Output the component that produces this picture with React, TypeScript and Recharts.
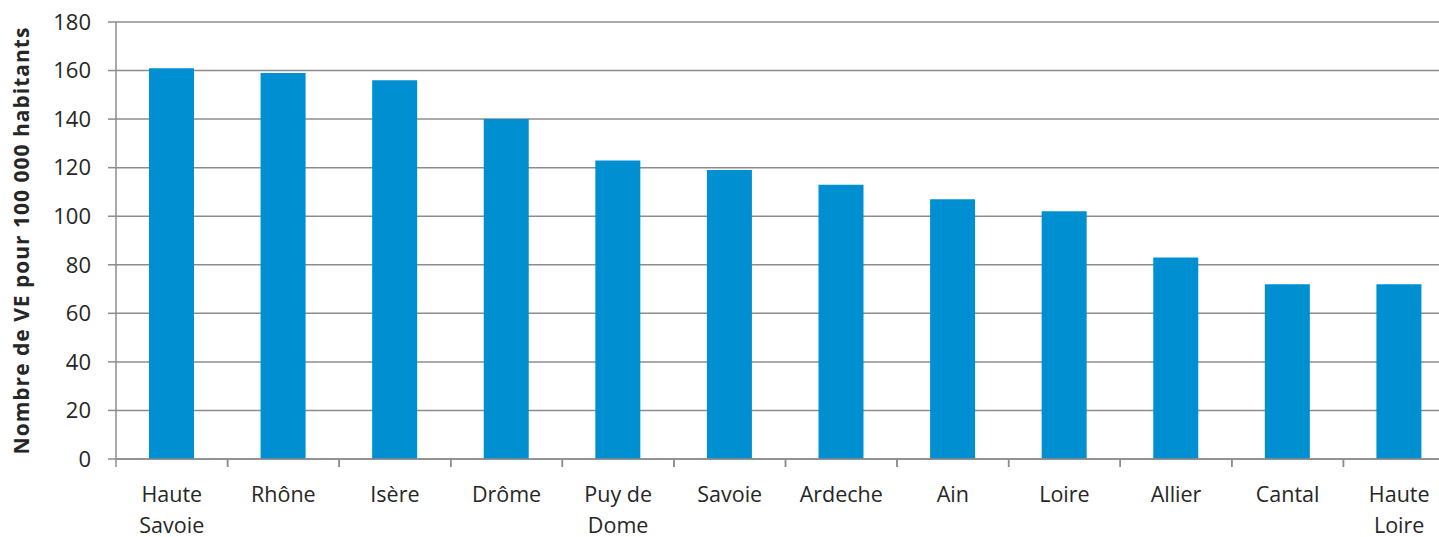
import { BarChart, Bar, XAxis, YAxis, CartesianGrid } from 'recharts'

// départements, nombre de VE pour 100 000 habitants
const departements = [
  'Haute Savoie',
  'Rhône',
  'Isère',
  'Drôme',
  'Puy de Dome',
  'Savoie',
  'Ardeche',
  'Ain',
  'Loire',
  'Allier',
  'Cantal',
  'Haute Loire',
]
const vePour100k = [161, 159, 156, 140, 123, 119, 113, 107, 102, 83, 72, 72]
const yTicks = [0, 20, 40, 60, 80, 100, 120, 140, 160, 180]

// libellés sur deux lignes comme dans l'original
const labelLines: Record<string, string[]> = {
  'Haute Savoie': ['Haute', 'Savoie'],
  'Puy de Dome': ['Puy de', 'Dome'],
  'Haute Loire': ['Haute', 'Loire'],
}

const data = departements.map((name, i) => ({ name, value: vePour100k[i] }))

const FONT = '"Open Sans", sans-serif'
const AXIS_COLOR = '#8c8c8c'
const TEXT_COLOR = '#262626'

const CategoryTick = (props: any) => {
  const { x, y, payload } = props
  const half = payload.offset ?? 55.8
  const lines = labelLines[payload.value] || [payload.value]
  return (
    <g>
      <line x1={x - half} x2={x - half} y1={y - 8} y2={y} stroke={AXIS_COLOR} strokeWidth={1.5} />
      <line x1={x + half} x2={x + half} y1={y - 8} y2={y} stroke={AXIS_COLOR} strokeWidth={1.5} />
      {lines.map((line, i) => (
        <text
          key={i}
          x={x}
          y={y + 35 + i * 31}
          textAnchor="middle"
          fontFamily={FONT}
          fontSize={21.5}
          fill={TEXT_COLOR}
        >
          {line}
        </text>
      ))}
    </g>
  )
}

export default function App() {
  return (
    <div
      style={{
        position: 'absolute',
        left: 0,
        top: 0,
        width: 1439,
        height: 537,
        overflow: 'hidden',
        background: '#fff',
      }}
    >
      <BarChart
        width={1460}
        height={537}
        data={data}
        margin={{ top: 22, right: 5, left: 0, bottom: 0 }}
      >
        <CartesianGrid vertical={false} stroke={AXIS_COLOR} strokeWidth={1.5} />
        <XAxis
          dataKey="name"
          height={78}
          interval={0}
          stroke={AXIS_COLOR}
          strokeWidth={1.5}
          tickLine={false}
          tick={<CategoryTick />}
        />
        <YAxis
          width={116}
          domain={[0, 180]}
          ticks={yTicks}
          interval={0}
          stroke={AXIS_COLOR}
          strokeWidth={1.5}
          tickSize={8}
          tickMargin={17}
          tick={{ fill: TEXT_COLOR, fontFamily: FONT, fontSize: 22 }}
          label={{
            content: (p: any) => {
              const vb = p.viewBox || { y: 22, height: 437 }
              const cy = vb.y + vb.height / 2
              return (
                <text
                  x={21}
                  y={cy}
                  transform={`rotate(-90, 21, ${cy})`}
                  textAnchor="middle"
                  dominantBaseline="central"
                  fontFamily={FONT}
                  fontWeight="bold"
                  fontSize={21}
                  letterSpacing={1}
                  fill={TEXT_COLOR}
                >
                  Nombre de VE pour 100 000 habitants
                </text>
              )
            },
          }}
        />
        <Bar dataKey="value" fill="#008fd1" barSize={45} isAnimationActive={false} />
      </BarChart>
    </div>
  )
}
